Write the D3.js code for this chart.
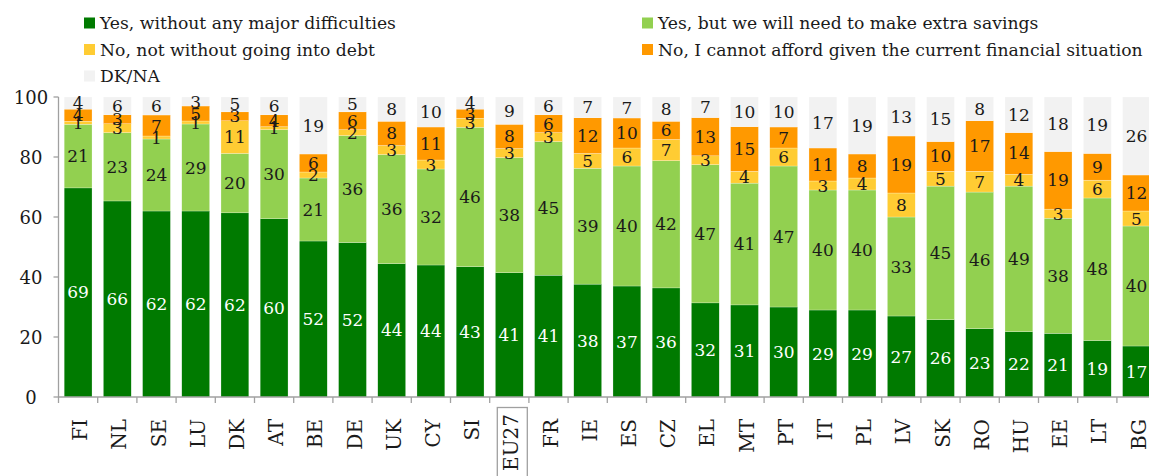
<!DOCTYPE html>
<html><head><meta charset="utf-8">
<script src="https://cdn.jsdelivr.net/npm/d3@7"></script>
<style>
html,body{margin:0;padding:0;background:#fff;}
svg{display:block;font-family:"DejaVu Serif",serif;}
</style></head>
<body>
<svg id="chart" width="1149" height="476"></svg>
<script>
const categories = ["FI","NL","SE","LU","DK","AT","BE","DE","UK","CY","SI","EU27","FR","IE","ES","CZ","EL","MT","PT","IT","PL","LV","SK","RO","HU","EE","LT","BG"];
const yesNoDifficulty = [69,66,62,62,62,60,52,52,44,44,43,41,41,38,37,36,32,31,30,29,29,27,26,23,22,21,19,17];
const yesExtraSavings = [21,23,24,29,20,30,21,36,36,32,46,38,45,39,40,42,47,41,47,40,40,33,45,46,49,38,48,40];
const noDebt = [1,3,1,1,11,1,2,2,3,3,3,3,3,5,6,7,3,4,6,3,4,8,5,7,4,3,6,5];
const noCannotAfford = [4,3,7,5,3,4,6,6,8,11,3,8,6,12,10,6,13,15,7,11,8,19,10,17,14,19,9,12];
const dkNa = [4,6,6,3,5,6,19,5,8,10,4,9,6,7,7,8,7,10,10,17,19,13,15,8,12,18,19,26];
const seriesNames = ["Yes, without any major difficulties","Yes, but we will need to make extra savings","No, not without going into debt","No, I cannot afford given the current financial situation","DK/NA"];
const yTicks = [0,20,40,60,80,100];
const highlighted = "EU27";

(function(){
const colors = ["#007a00","#92d050","#ffcc33","#ff9900","#f2f2f2"];
const keys = ["k0","k1","k2","k3","k4"];
const seriesArrays = [yesNoDifficulty,yesExtraSavings,noDebt,noCannotAfford,dkNa];
const rows = categories.map((c,i)=>{const r={cat:c};keys.forEach((k,j)=>r[k]=seriesArrays[j][i]);return r;});

const svg = d3.select("#chart");
const left = 58.5, bottomY = 397, topY = 97, step = 39.2;
const x = d3.scaleBand().domain(categories).range([left, left + step*categories.length]).paddingInner(0.29).paddingOuter(0.145);
const y = d3.scaleLinear().domain([0,100]).range([bottomY, topY]);

const stack = d3.stack().keys(keys).offset(d3.stackOffsetExpand);
const stacked = stack(rows);
stacked.forEach(s=>s.forEach(d=>{d[0]*=100;d[1]*=100;}));

const g = svg.append("g");
stacked.forEach((s,si)=>{
  g.append("g").selectAll("rect").data(s).join("rect")
    .attr("x",d=>x(d.data.cat)).attr("width",x.bandwidth())
    .attr("y",d=>y(d[1])).attr("height",d=>y(d[0])-y(d[1]))
    .attr("fill",colors[si]).attr("stroke","#ffffff").attr("stroke-width",0.4).attr("stroke-opacity",0.6);
});
stacked.forEach((s,si)=>{
  g.append("g").selectAll("text").data(s).join("text")
    .attr("x",d=>x(d.data.cat)+x.bandwidth()/2)
    .attr("y",d=>y((d[0]+d[1])/2))
    .attr("text-anchor","middle").attr("dominant-baseline","central")
    .attr("font-size",17)
    .attr("fill",si===0?"#ffffff":"#1a1a1a")
    .text(d=>d.data[keys[si]]);
});

const axisColor = "#a0a0a0";
const xEnd = left + step*categories.length;
svg.append("line").attr("x1",left).attr("x2",xEnd).attr("y1",bottomY).attr("y2",bottomY).attr("stroke",axisColor).attr("stroke-width",1.3);
svg.append("line").attr("x1",left).attr("x2",left).attr("y1",topY).attr("y2",bottomY).attr("stroke",axisColor).attr("stroke-width",1.3);
const off = x.step()*x.paddingInner()/2;
const bounds = categories.map(c=>x(c)-off).concat([x(categories[categories.length-1])+x.bandwidth()+off]);
svg.append("g").selectAll("line").data(bounds).join("line")
  .attr("x1",d=>d).attr("x2",d=>d).attr("y1",bottomY).attr("y2",bottomY+6).attr("stroke",axisColor).attr("stroke-width",1.3);
svg.append("g").selectAll("line").data(yTicks).join("line")
  .attr("x1",left-5).attr("x2",left).attr("y1",d=>y(d)).attr("y2",d=>y(d)).attr("stroke",axisColor).attr("stroke-width",1.3);
svg.append("g").selectAll("text").data(yTicks).join("text")
  .attr("x",31).attr("y",d=>y(d)).attr("text-anchor","middle").attr("dominant-baseline","central")
  .attr("font-size",18).attr("fill","#1a1a1a").text(d=>d);

const lx = svg.append("g");
categories.forEach(c=>{
  const cx = x(c)+x.bandwidth()/2 + 2;
  lx.append("text").attr("transform",`translate(${cx},${c===highlighted?414:419}) rotate(-90)`)
    .attr("text-anchor","end").attr("dominant-baseline","central")
    .attr("font-size",20).attr("fill","#1a1a1a").text(c);
});
const hx = x(highlighted)+x.bandwidth()/2 + 3;
svg.append("rect").attr("x",hx-15).attr("y",407.5).attr("width",30).attr("height",80)
  .attr("fill","none").attr("stroke","#a0a0a0").attr("stroke-width",1.3);

const legendPos = [[84,23],[642,23],[84,49.5],[642,49.5],[84,76]];
seriesNames.forEach((n,i)=>{
  const [lxp,lyp] = legendPos[i];
  svg.append("rect").attr("x",lxp).attr("y",lyp-5.5).attr("width",11).attr("height",11).attr("fill",colors[i]);
  svg.append("text").attr("x",lxp+16).attr("y",lyp).attr("dominant-baseline","central")
    .attr("font-size",17.2).attr("fill","#1a1a1a").text(n);
});
})();
</script>
</body></html>
